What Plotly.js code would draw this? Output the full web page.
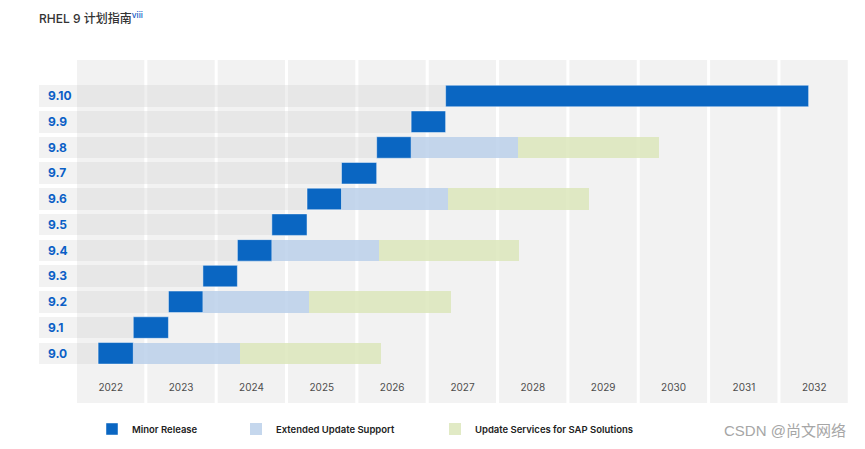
<!DOCTYPE html>
<html>
<head>
<meta charset="utf-8">
<script src="https://cdn.plot.ly/plotly-3.0.1.min.js"></script>
<style>html,body{margin:0;padding:0;background:#fff;}#chart{width:865px;height:449px;}</style>
</head>
<body>
<div id="chart"></div>
<script>
// ---- data ----
const versions = ['9.0','9.1','9.2','9.3','9.4','9.5','9.6','9.7','9.8','9.9','9.10'];
const releaseStart = [2022.30, 2022.80, 2023.30, 2023.79, 2024.28, 2024.77, 2025.27, 2025.76, 2026.26, 2026.75, 2027.24];
const releaseEnd   = [2022.80, 2023.30, 2023.79, 2024.28, 2024.77, 2025.27, 2025.76, 2026.26, 2026.75, 2027.24, 2032.40];
const eusVersions = ['9.0','9.2','9.4','9.6','9.8'];
const eusEnd = [2024.32, 2025.30, 2026.29, 2027.27, 2028.27];
const sapEnd = [2026.32, 2027.31, 2028.29, 2029.28, 2030.27];
const years = [2022,2023,2024,2025,2026,2027,2028,2029,2030,2031,2032];
const yearLabels = years.map(String);
const seriesNames = ['Minor Release','Extended Update Support','Update Services for SAP Solutions'];

// ---- layout constants ----
const X0 = 2021.46, X1 = 2032.96, TIMELINE_START = 2022;
const BAR_W = 0.836;
const font = 'Inter, "Noto Sans", "Noto Sans CJK SC", sans-serif';

const eusBase = eusVersions.map(v => releaseEnd[versions.indexOf(v)]);

const traces = [
  { // label strip behind version labels
    type:'bar', orientation:'h', y:versions, base:versions.map(()=>X0),
    x:versions.map(()=>TIMELINE_START - X0), width:BAR_W,
    marker:{color:'#f2f2f2', line:{width:0}}, showlegend:false, hoverinfo:'skip'
  },
  { // past band up to release
    type:'bar', orientation:'h', y:versions, base:versions.map(()=>TIMELINE_START),
    x:releaseStart.map(s => s - TIMELINE_START), width:BAR_W,
    marker:{color:'rgba(212,212,212,0.36)', line:{width:0}}, showlegend:false, hoverinfo:'skip'
  },
  {
    type:'bar', orientation:'h', name:seriesNames[0], y:versions, base:releaseStart,
    x:releaseEnd.map((e,i)=> e - releaseStart[i]), width:BAR_W,
    marker:{color:'rgba(0,96,192,0.96)', line:{width:1, color:'rgba(255,255,255,0.45)'}},
    legend:'legend', hoverinfo:'skip'
  },
  {
    type:'bar', orientation:'h', name:seriesNames[1], y:eusVersions, base:eusBase,
    x:eusEnd.map((e,i)=> e - eusBase[i]), width:BAR_W,
    marker:{color:'rgba(188,209,234,0.86)', line:{width:0}},
    legend:'legend2', hoverinfo:'skip'
  },
  {
    type:'bar', orientation:'h', name:seriesNames[2], y:eusVersions, base:eusEnd,
    x:sapEnd.map((e,i)=> e - eusEnd[i]), width:BAR_W,
    marker:{color:'rgba(220,231,188,0.86)', line:{width:0}},
    legend:'legend3', hoverinfo:'skip'
  }
];

// background year columns
const plotTop = 60, plotBottom = 372, panelBottom = 403;
const plotH = plotBottom - plotTop;
const shapes = years.map(y => ({
  type:'rect', xref:'paper', yref:'paper', layer:'below',
  x0:(y - X0)/(X1 - X0), x1:(y + 0.957 - X0)/(X1 - X0),
  y0:-(panelBottom - plotBottom)/plotH, y1:1,
  fillcolor:'#f2f2f2', line:{width:0}
}));

const legendCommon = {
  orientation:'h', xref:'container', yref:'container', yanchor:'middle',
  y:1 - 429/449, bgcolor:'rgba(0,0,0,0)', itemclick:false, itemdoubleclick:false,
  font:{family:font, size:9.5, color:'#222', weight:600}
};

const layout = {
  width:865, height:449,
  margin:{l:39, r:17, t:plotTop, b:449-plotBottom},
  paper_bgcolor:'#fff', plot_bgcolor:'rgba(0,0,0,0)',
  barmode:'overlay', bargap:0,
  title:{
    text:'RHEL 9 计划指南<sup><span style="color:#1a5fc8">viii</span></sup>',
    xref:'container', yref:'container', x:39/865, xanchor:'left', y:1 - 19/449, yanchor:'middle',
    font:{family:font, size:12, color:'#333', weight:500}
  },
  xaxis:{
    range:[X0, X1], showgrid:false, zeroline:false, showline:false, ticks:'',
    tickvals:years.map(y => y + 0.48), ticktext:yearLabels,
    tickfont:{family:font, size:10, color:'#4d4d4d'}, ticklabelstandoff:8, fixedrange:true
  },
  yaxis:{
    type:'category', categoryorder:'array', categoryarray:versions,
    range:[-0.727, 11.40], showgrid:false, zeroline:false, showline:false, ticks:'',
    ticklabelposition:'inside', ticklabelstandoff:6,
    tickfont:{family:font, size:12, color:'#0b5fc6', weight:700}, fixedrange:true
  },
  shapes:shapes,
  legend:Object.assign({}, legendCommon, {x:92/865}),
  legend2:Object.assign({}, legendCommon, {x:236/865}),
  legend3:Object.assign({}, legendCommon, {x:435/865}),
  annotations:[{
    text:'CSDN @尚文网络', xref:'paper', yref:'paper', x:1, xanchor:'right',
    y:-(430 - plotBottom)/plotH, yanchor:'middle', showarrow:false,
    font:{family:'"Liberation Sans", "Noto Sans CJK SC", sans-serif', size:15, color:'#a6a6a6'}
  }]
};

Plotly.newPlot('chart', traces, layout, {displayModeBar:false, staticPlot:true});
</script>
</body>
</html>
